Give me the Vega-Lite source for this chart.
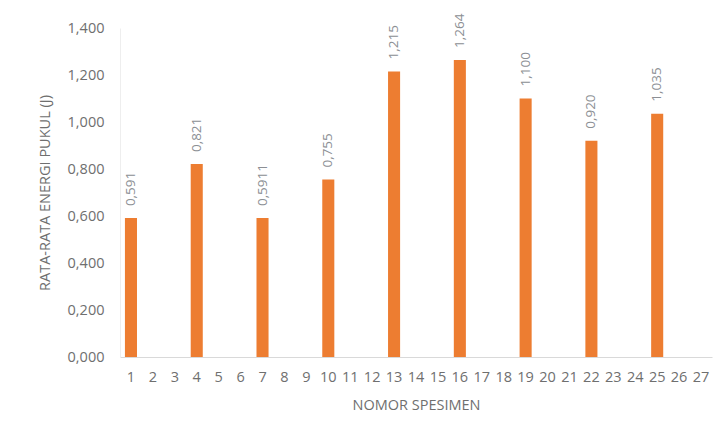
{
  "$schema": "https://vega.github.io/schema/vega-lite/v6.json",
  "width": 592,
  "height": 329,
  "autosize": {"type": "none"},
  "padding": {"left": 120, "top": 28, "right": 11, "bottom": 79},
  "background": "#ffffff",
  "data": {
    "values": [
      {"nomor": 1, "energi": 0.591, "label": "0,591"},
      {"nomor": 4, "energi": 0.821, "label": "0,821"},
      {"nomor": 7, "energi": 0.5911, "label": "0,5911"},
      {"nomor": 10, "energi": 0.755, "label": "0,755"},
      {"nomor": 13, "energi": 1.215, "label": "1,215"},
      {"nomor": 16, "energi": 1.264, "label": "1,264"},
      {"nomor": 19, "energi": 1.1, "label": "1,100"},
      {"nomor": 22, "energi": 0.92, "label": "0,920"},
      {"nomor": 25, "energi": 1.035, "label": "1,035"}
    ]
  },
  "encoding": {
    "x": {
      "field": "nomor",
      "type": "ordinal",
      "scale": {
        "domain": [1, 2, 3, 4, 5, 6, 7, 8, 9, 10, 11, 12, 13, 14, 15, 16, 17, 18, 19, 20, 21, 22, 23, 24, 25, 26, 27],
        "paddingInner": 0.45,
        "paddingOuter": 0.225
      },
      "axis": {
        "title": "NOMOR SPESIMEN",
        "labelAngle": 0,
        "labelOverlap": false,
        "labelPadding": 13,
        "ticks": false,
        "grid": false,
        "domainColor": "#d9d9d9",
        "domainWidth": 1,
        "titleY": 48,
        "titleBaseline": "middle"
      }
    },
    "y": {
      "field": "energi",
      "type": "quantitative",
      "scale": {"domain": [0, 1.4]},
      "axis": {
        "title": "RATA-RATA ENERGI PUKUL (J)",
        "values": [0, 0.2, 0.4, 0.6, 0.8, 1.0, 1.2, 1.4],
        "format": ".3f",
        "labelPadding": 16,
        "ticks": false,
        "grid": false,
        "domain": true,
        "domainColor": "#eeeeee",
        "titleX": -75,
        "titleBaseline": "middle"
      }
    }
  },
  "layer": [
    {
      "mark": {"type": "bar", "color": "#ED7D31"}
    },
    {
      "mark": {
        "type": "text",
        "angle": -90,
        "align": "left",
        "baseline": "middle",
        "dx": 12,
        "font": "Open Sans",
        "fontSize": 13.5,
        "color": "#8c8f94"
      },
      "encoding": {"text": {"field": "label"}}
    }
  ],
  "config": {
    "locale": {
      "number": {"decimal": ",", "thousands": ".", "grouping": [3], "currency": ["", ""]}
    },
    "view": {"stroke": null},
    "axis": {
      "labelFont": "Open Sans",
      "labelFontSize": 14.5,
      "labelColor": "#6f6f6f",
      "titleFont": "Open Sans",
      "titleFontSize": 14.5,
      "titleFontWeight": "normal",
      "titleColor": "#6f6f6f"
    }
  }
}
